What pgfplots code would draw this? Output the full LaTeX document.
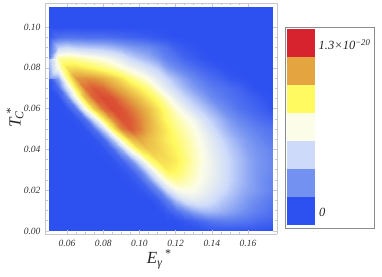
\documentclass[border=0pt]{standalone}
\usepackage{pgfplots}
\pgfplotsset{compat=1.18}
\usepackage{fontspec}
\setmainfont{Liberation Serif}
\definecolor{c0}{RGB}{45,80,240}
\definecolor{c1}{RGB}{115,145,240}
\definecolor{c2}{RGB}{205,218,250}
\definecolor{c3}{RGB}{252,253,232}
\definecolor{c4}{RGB}{255,250,95}
\definecolor{c5}{RGB}{228,165,65}
\definecolor{c6}{RGB}{214,35,45}
\definecolor{frm}{RGB}{200,200,200}
\begin{document}
\begin{tikzpicture}[x=1pt,y=1pt]
\path (0,0) rectangle (382,276);
\begin{axis}[
  at={(45pt,42pt)}, anchor=south west, scale only axis,
  width=232pt, height=231pt,
  xmin=0.04784, xmax=0.1760, ymin=-0.0015, ymax=0.1118,
  view={0}{90},
  axis on top,
  axis line style={frm,line width=0.9pt},
  xtick={0.06,0.08,0.10,0.12,0.14,0.16},
  xticklabels={0.06,0.08,0.10,0.12,0.14,0.16},
  ytick={0,0.02,0.04,0.06,0.08,0.10},
  yticklabels={0.00,0.02,0.04,0.06,0.08,0.10},
  minor x tick num=3, minor y tick num=3,
  tick align=inside,
  major tick length=4pt, minor tick length=2.5pt,
  every tick/.style={frm,line width=0.6pt},
  tick label style={font=\itshape\fontsize{9.5}{10}\selectfont,text=black!80},
  xticklabel style={yshift=-3pt},
  yticklabel style={xshift=-1pt},
  colormap={lab}{rgb255=(45,80,240) rgb255=(115,145,240) rgb255=(205,218,250) rgb255=(252,253,232) rgb255=(255,250,95) rgb255=(228,165,65) rgb255=(214,35,45)},
  point meta min=0, point meta max=100,
]
\addplot3[surf,shader=interp,mesh/cols=26] table[header=false,row sep=\\,
  x expr={min(0.05+0.005*mod(\coordindex,26),0.1733)},
  y expr={0.005*floor(\coordindex/26)},
  z index=0] {
0\\0\\0\\0\\0\\0\\0\\0\\0\\0\\0\\0\\0\\0\\0\\0\\0\\0\\1\\1\\1\\1\\1\\1\\0\\0\\
0\\0\\0\\0\\0\\0\\0\\0\\0\\0\\0\\0\\0\\0\\0\\2\\4\\7\\10\\11\\11\\10\\9\\7\\6\\5\\
0\\0\\0\\0\\0\\0\\0\\0\\0\\0\\0\\0\\0\\3\\8\\15\\22\\26\\26\\24\\21\\18\\15\\12\\10\\8\\
0\\0\\0\\0\\0\\0\\0\\0\\0\\0\\0\\0\\3\\12\\28\\38\\41\\39\\35\\30\\26\\22\\18\\15\\12\\10\\
0\\0\\0\\0\\0\\0\\0\\0\\0\\0\\1\\4\\14\\35\\48\\50\\49\\45\\40\\35\\30\\25\\21\\18\\15\\13\\
0\\0\\0\\0\\0\\0\\0\\0\\0\\1\\4\\15\\38\\55\\60\\57\\53\\48\\43\\38\\32\\27\\22\\18\\15\\13\\
0\\0\\0\\0\\0\\0\\0\\0\\1\\4\\14\\35\\58\\69\\67\\61\\55\\49\\44\\38\\32\\27\\22\\18\\16\\14\\
0\\0\\0\\0\\0\\0\\0\\1\\5\\16\\38\\62\\72\\72\\69\\63\\56\\50\\44\\38\\32\\27\\22\\18\\16\\14\\
0\\0\\0\\0\\0\\0\\1\\6\\24\\52\\71\\77\\75\\71\\67\\61\\55\\49\\42\\36\\30\\25\\20\\17\\15\\13\\
0\\0\\0\\0\\0\\1\\6\\28\\58\\78\\83\\79\\74\\69\\65\\59\\53\\47\\40\\33\\27\\22\\18\\15\\12\\11\\
0\\0\\0\\0\\1\\8\\32\\66\\87\\93\\89\\82\\75\\69\\62\\56\\51\\43\\35\\28\\22\\18\\15\\12\\10\\9\\
0\\0\\0\\1\\8\\38\\68\\86\\94\\93\\88\\82\\73\\65\\58\\52\\46\\37\\30\\24\\18\\14\\11\\8\\6\\5\\
0\\0\\1\\10\\48\\75\\90\\95\\94\\90\\85\\79\\71\\62\\52\\44\\35\\29\\23\\17\\13\\9\\7\\5\\3\\1\\
0\\0\\12\\48\\78\\92\\95\\94\\89\\84\\78\\71\\63\\52\\42\\33\\27\\21\\15\\12\\9\\7\\5\\3\\1\\0\\
0\\6\\38\\70\\90\\93\\91\\86\\81\\75\\69\\62\\50\\40\\32\\25\\19\\15\\11\\9\\7\\5\\2\\0\\0\\0\\
2\\22\\62\\85\\86\\85\\82\\77\\71\\63\\56\\49\\40\\32\\25\\19\\14\\10\\7\\5\\2\\1\\0\\0\\0\\0\\
18\\50\\72\\73\\70\\67\\63\\59\\53\\47\\42\\36\\30\\20\\15\\11\\8\\5\\3\\1\\0\\0\\0\\0\\0\\0\\
28\\58\\60\\58\\55\\52\\49\\45\\40\\33\\28\\24\\18\\12\\9\\5\\3\\1\\0\\0\\0\\0\\0\\0\\0\\0\\
12\\30\\33\\30\\29\\28\\27\\25\\22\\19\\17\\15\\11\\8\\4\\2\\1\\0\\0\\0\\0\\0\\0\\0\\0\\0\\
2\\8\\9\\9\\8\\8\\8\\7\\6\\5\\4\\3\\2\\1\\0\\0\\0\\0\\0\\0\\0\\0\\0\\0\\0\\0\\
0\\0\\0\\0\\0\\0\\0\\0\\0\\0\\0\\0\\0\\0\\0\\0\\0\\0\\0\\0\\0\\0\\0\\0\\0\\0\\
0\\0\\0\\0\\0\\0\\0\\0\\0\\0\\0\\0\\0\\0\\0\\0\\0\\0\\0\\0\\0\\0\\0\\0\\0\\0\\
0\\0\\0\\0\\0\\0\\0\\0\\0\\0\\0\\0\\0\\0\\0\\0\\0\\0\\0\\0\\0\\0\\0\\0\\0\\0\\
};
\end{axis}
% axis titles
\node[font=\itshape\fontsize{17}{18}\selectfont,text=black!85] at (159,17) {E\textsubscript{γ}\textsuperscript{\,*}};
\node[font=\itshape\fontsize{17}{18}\selectfont,text=black!85,rotate=90] at (15,158) {T\kern-1pt\textsubscript{C}\kern-4pt\textsuperscript{*}};
% colour key
\draw[black!45,line width=0.8pt,fill=white] (285,48) rectangle (374,249);
\foreach \i in {0,...,6}{
  \fill[c\i] (287,{51+28*\i}) rectangle (315,{51+28*(\i+1)});
}
\node[anchor=west,font=\itshape\fontsize{12.5}{13}\selectfont,inner sep=0pt,text=black!85] at (318.5,231) {1.3×10\textsuperscript{−20}};
\node[anchor=west,font=\itshape\fontsize{12.5}{13}\selectfont,inner sep=0pt,text=black!85] at (319,64) {0};
\end{tikzpicture}
\end{document}
